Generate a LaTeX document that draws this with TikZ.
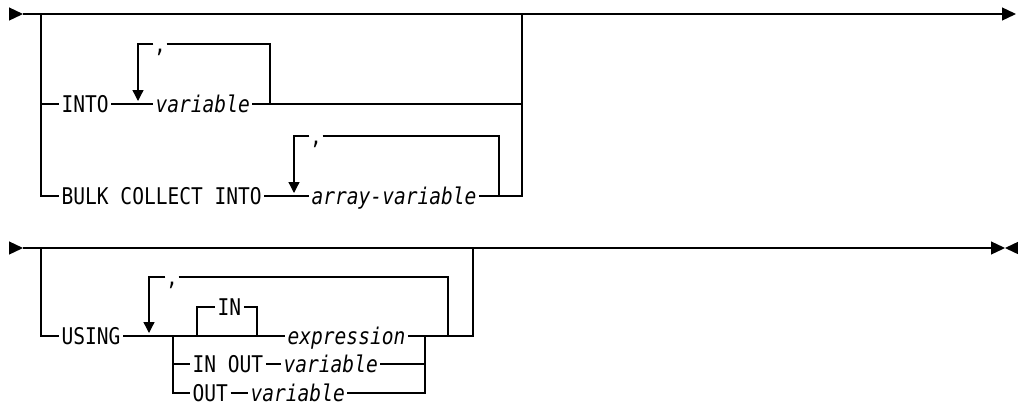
\documentclass[tikz,border=0pt]{standalone}
\usepackage{fontspec}
\setmonofont[FakeStretch=0.85]{DejaVu Sans Mono}
\usetikzlibrary{arrows.meta}
\newcommand{\synfont}{\ttfamily\fontsize{23}{25}\selectfont}

\begin{document}
\begin{tikzpicture}[x=1pt, y=-1pt, line width=1.3pt, line join=miter]
  \tikzstyle{kword}=[inner xsep=2pt, inner ysep=0pt, text height=16.8pt, text depth=0pt, anchor=west, font=\synfont]
  \tikzstyle{vname}=[kword, font=\synfont\itshape]
  \tikzstyle{commasign}=[inner sep=0pt, text height=16.8pt, text depth=0pt, font=\synfont]
  \tikzstyle{loop arrow}=[-{Triangle[length=11pt,width=11pt]}]
  \tikzstyle{start arrow}=[-{Triangle[length=14pt,width=13pt]}]

  \useasboundingbox (0,0) rectangle (1018,405);

  % first line: INTO / BULK COLLECT INTO
  \coordinate (r1s) at (23,14);
  \coordinate (r1e) at (1016,14);
  \coordinate (j1l) at (41,14);
  \coordinate (j1r) at (522,14);
  \draw[start arrow] (9,14) -- (r1s);
  \draw[start arrow] (r1s) -- (r1e);

  \node[kword] (into) at (59,104) {INTO};
  \node[vname] (intovar) at (153,104) {variable};
  \node[kword] (bulk) at (59,196) {BULK COLLECT INTO};
  \node[vname] (arrvar) at (309,196) {array-variable};

  \draw (j1l) |- (bulk.west);
  \draw (j1l |- into) -- (into.west);
  \draw (into.east) -- (intovar.west);
  \draw (intovar.east) -- (j1r |- intovar);
  \draw (bulk.east) -- (arrvar.west);
  \draw (arrvar.east) -| (j1r);

  \node[commasign] (c1) at (160,44) {,};
  \draw[loop arrow] (c1.west) -| (138,101);
  \draw (c1.east) -| (270,104);

  \node[commasign] (c2) at (316,136) {,};
  \draw[loop arrow] (c2.west) -| (294,193);
  \draw (c2.east) -| (499,196);

  % second line: USING
  \coordinate (r2s) at (23,248);
  \coordinate (r2e) at (1005,248);
  \coordinate (j2l) at (41,248);
  \coordinate (j2r) at (473,248);
  \draw[start arrow] (9,248) -- (r2s);
  \draw[start arrow] (r2s) -- (r2e);
  \draw[start arrow] (1018,248) -- (r2e);

  \node[kword] (using) at (59,336) {USING};
  \node[kword] (inkw) at (215,307) {IN};
  \node[vname] (expr) at (285,336) {expression};
  \node[kword] (inout) at (190,364) {IN OUT};
  \node[vname] (inoutvar) at (281,364) {variable};
  \node[kword] (outkw) at (190,393) {OUT};
  \node[vname] (outvar) at (248,393) {variable};

  \coordinate (chl) at (173,336);
  \coordinate (chr) at (425,336);
  \coordinate (inl) at (197,336);
  \coordinate (inr) at (257,336);

  \draw (j2l) |- (using.west);
  \draw (using.east) -- (expr.west);
  \draw (expr.east) -| (j2r);
  \draw (inl) |- (inkw.west);
  \draw (inkw.east) -| (inr);
  \draw (chl) |- (outkw.west);
  \draw (chl |- inout) -- (inout.west);
  \draw (inout.east) -- (inoutvar.west);
  \draw (inoutvar.east) -- (chr |- inoutvar);
  \draw (outkw.east) -- (outvar.west);
  \draw (outvar.east) -| (chr);

  \node[commasign] (c3) at (172,277) {,};
  \draw[loop arrow] (c3.west) -| (149,333);
  \draw (c3.east) -| (448,336);
\end{tikzpicture}
\end{document}
